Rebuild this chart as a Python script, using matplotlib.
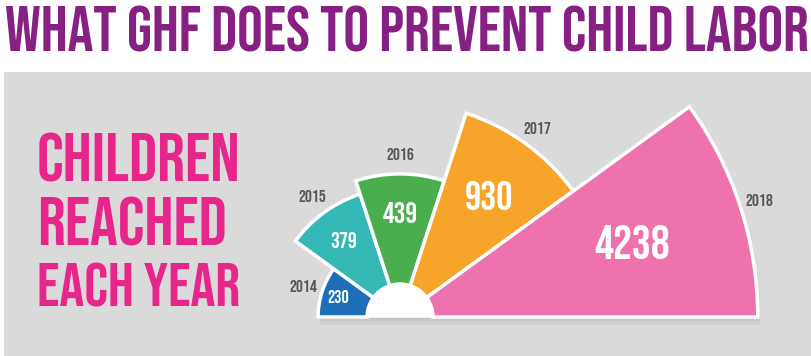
import numpy as np
import matplotlib
matplotlib.use("Agg")
import matplotlib.pyplot as plt
from matplotlib.patches import Rectangle

# data
years = ["2014", "2015", "2016", "2017", "2018"]
children = [230, 379, 439, 930, 4238]
colors = ["#1f6fb8", "#33b8b5", "#4aae4f", "#f6a42a", "#ee72ae"]

title = "WHAT GHF DOES TO PREVENT CHILD LABOR"
side_lines = ["CHILDREN", "REACHED", "EACH YEAR"]

FONT = ["Bebas Neue", "DejaVu Sans"]

W, H = 812, 356
fig = plt.figure(figsize=(W / 100, H / 100), dpi=100)
fig.patch.set_facecolor("white")

# grey panel
fig.patches.append(Rectangle((4 / W, 0), 1, 284 / H, transform=fig.transFigure,
                             facecolor="#dadada", edgecolor="none", zorder=-2))

# soft shadow under the fan
for i, a in enumerate([0.10, 0.08, 0.06, 0.04, 0.02]):
    fig.patches.append(Rectangle((320 / W, (37 - i * 1.5) / H), 440 / W, 1.5 / H,
                                 transform=fig.transFigure, facecolor="black",
                                 alpha=a, edgecolor="none", zorder=-1))

# radial (log) scale: hub edge r0, inner limit rmin, outer limit rmax
PX_DEC = 218  # px per decade
r0 = 10 ** 1.986
rmin = 10 ** 2.137
rmax = 4238 * 10 ** (4 / PX_DEC)
R = (np.log10(rmax) - np.log10(r0)) * PX_DEC  # px
cx, cy = 400, 39
ax = fig.add_axes([(cx - R) / W, (cy - R) / H, 2 * R / W, 2 * R / H],
                  projection="polar")
ax.set_rscale("log")
ax.set_rlim(rmin, rmax)
ax.set_rorigin(r0)
ax.set_facecolor("none")
ax.axis("off")

n = len(years)
width = np.pi / n
theta = np.pi - width / 2 - np.arange(n) * width
vals = np.array(children, dtype=float)

ax.bar(theta, vals - rmin, bottom=rmin, width=width, color=colors,
       edgecolor="white", linewidth=2.5, clip_on=False, zorder=3)
# white hub
ax.bar(np.pi / 2, rmin - r0, bottom=r0, width=np.pi, color="white",
       edgecolor="white", linewidth=1, clip_on=False, zorder=4)

val_sizes = [13, 16, 21, 29, 34]
for t, v, y, s in zip(theta, vals, years, val_sizes):
    rl = rmin * (v / rmin) ** 0.65
    ax.text(t, rl, f"{int(v)}", color="white", fontsize=s,
            family=FONT, ha="center", va="center", zorder=5, clip_on=False)
    ax.text(t, v * 10 ** (20 / PX_DEC), y, color="#555555", fontsize=12.5,
            family=FONT, ha="center", va="center", clip_on=False)

# title, sized to the width
fig.canvas.draw()
r = fig.canvas.get_renderer()
tt = fig.text(5 / W, 1 - 6 / H, title, color="#862183", fontsize=40,
              family=FONT, ha="left", va="top")
bb = tt.get_window_extent(r)
tt.set_fontsize(40 * 803 / bb.width)


def fit_size(s, px):
    p = fig.text(0, 0, s, fontsize=40, family=FONT)
    size = 40 * px / p.get_window_extent(r).width
    p.remove()
    return size


# side text
side_y = [157, 221, 285]
fs = fit_size(side_lines[0], 203)
sizes = [fs, fs, min(fs, fit_size(side_lines[2], 203))]
for line, y, s in zip(side_lines, side_y, sizes):
    fig.text(37 / W, 1 - y / H, line, color="#e6268a", fontsize=s,
             family=FONT, ha="left", va="center")

fig.savefig("out.png", dpi=100)
